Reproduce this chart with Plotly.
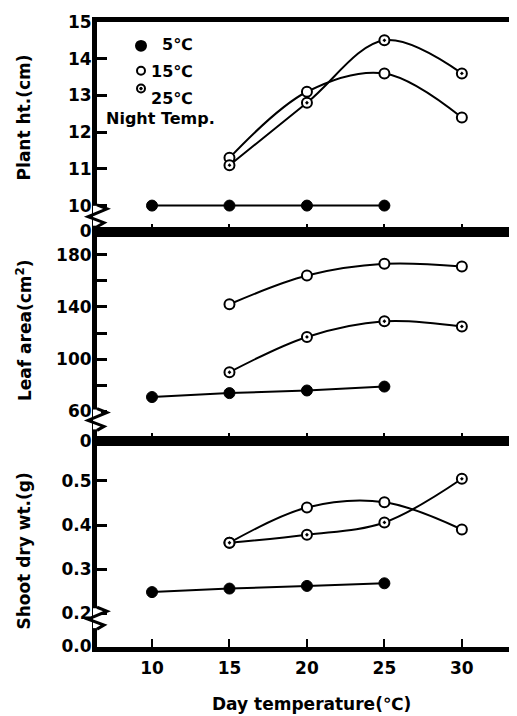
import plotly.graph_objects as go

# ---------------- data ----------------
day_5 = [10, 15, 20, 25]
day_hi = [15, 20, 25, 30]

ht_5 = [10.0, 10.0, 10.0, 10.0]
ht_15 = [11.3, 13.1, 13.6, 12.4]
ht_25 = [11.1, 12.8, 14.5, 13.6]

la_5 = [71, 74, 76, 79]
la_15 = [142, 164, 173, 171]
la_25 = [90, 117, 129, 125]

dw_5 = [0.248, 0.256, 0.262, 0.268]
dw_15 = [0.36, 0.44, 0.452, 0.39]
dw_25 = [0.36, 0.378, 0.406, 0.505]

x_ticks = [10, 15, 20, 25, 30]
ht_tickvals = [9.31, 10, 11, 12, 13, 14, 14.99]
ht_ticktext = ["0", "10", "11", "12", "13", "14", "15"]
la_tickvals = [37.5, 60, 80, 100, 120, 140, 160, 180]
la_ticktext = ["0", "60", "", "100", "", "140", "", "180"]
dw_tickvals = [0.125, 0.2, 0.3, 0.4, 0.5]
dw_ticktext = ["0.0", "0.2", "0.3", "0.4", "0.5"]

legend_names = ["5℃", "15℃", "25℃"]
legend_title = "Night Temp."

# ---------------- layout geometry ----------------
# the page body adds an 8px margin, so the figure is 8px smaller
OFF = 8
W, H = 517 - OFF, 716 - OFF
L, R, T, B = 97 - OFF, 4, 18 - OFF, 69
PW, PH = W - L - R, H - T - B


def px(xs):
    # screen pixel -> paper x
    return (xs - OFF - L) / PW


def py(ys):
    # screen pixel -> paper y
    return (H - B - (ys - OFF)) / PH


FONT = "DejaVu Sans, Liberation Sans, Arial, sans-serif"
BLACK = "black"

d3 = [0, py(440)]
d2 = [py(440), py(229)]
d1 = [py(229), 1]

fig = go.Figure()

styles = {
    "5": dict(symbol="circle", size=11, color=BLACK, line=dict(color=BLACK, width=1)),
    "15": dict(symbol="circle", size=10, color="white", line=dict(color=BLACK, width=2)),
    "25": dict(symbol="circle-dot", size=10, color="white", line=dict(color=BLACK, width=2)),
}

panels = [
    ("x", "y", ht_5, ht_15, ht_25),
    ("x2", "y2", la_5, la_15, la_25),
    ("x3", "y3", dw_5, dw_15, dw_25),
]
for xa, ya, v5, v15, v25 in panels:
    fig.add_trace(go.Scatter(x=day_5, y=v5, mode="lines+markers", xaxis=xa, yaxis=ya,
                             line=dict(color=BLACK, width=2), marker=styles["5"],
                             name=legend_names[0], showlegend=False))
    fig.add_trace(go.Scatter(x=day_hi, y=v15, mode="lines+markers", xaxis=xa, yaxis=ya,
                             line=dict(color=BLACK, width=2, shape="spline", smoothing=1.0),
                             marker=styles["15"], name=legend_names[1], showlegend=False))
    fig.add_trace(go.Scatter(x=day_hi, y=v25, mode="lines+markers", xaxis=xa, yaxis=ya,
                             line=dict(color=BLACK, width=2, shape="spline", smoothing=1.0),
                             marker=styles["25"], name=legend_names[2], showlegend=False))

tickfont = dict(family=FONT, size=17, color=BLACK, weight="bold")
xr = [6.45, 33.3]

common_x = dict(range=xr, tickvals=x_ticks, ticks="inside", ticklen=8, tickwidth=2,
                tickcolor=BLACK, showline=True, linewidth=5, linecolor=BLACK, mirror=True,
                showgrid=False, zeroline=False, tickfont=tickfont, fixedrange=True)
common_y = dict(ticks="inside", ticklen=10, tickwidth=3, tickcolor=BLACK, showline=True,
                linewidth=5, linecolor=BLACK, showgrid=False, zeroline=False,
                tickfont=tickfont, ticklabelstandoff=-3, fixedrange=True)

fig.update_layout(
    width=W, height=H,
    margin=dict(l=L, r=R, t=T, b=B, pad=0),
    paper_bgcolor="white", plot_bgcolor="white",
    font=dict(family=FONT, color=BLACK),
    xaxis=dict(domain=[0, 1], anchor="y", showticklabels=False, **common_x),
    xaxis2=dict(domain=[0, 1], anchor="y2", showticklabels=False, **common_x),
    xaxis3=dict(domain=[0, 1], anchor="y3", showticklabels=True, ticklabelstandoff=2, **common_x),
    yaxis=dict(domain=d1, anchor="x", range=[9.29, 15.0], tickvals=ht_tickvals,
               ticktext=ht_ticktext, **common_y),
    yaxis2=dict(domain=d2, anchor="x2", range=[37.1, 197.6], tickvals=la_tickvals,
                ticktext=la_ticktext, **common_y),
    yaxis3=dict(domain=d3, anchor="x3", range=[0.1235, 0.59], tickvals=dw_tickvals,
                ticktext=dw_ticktext, **common_y),
    showlegend=False,
)

title_font = dict(family=FONT, size=17, color=BLACK, weight="bold")
ann = [
    dict(text="Plant ht.(cm)", x=px(24), y=py(114), textangle=-90),
    dict(text="Leaf area(cm<sup>2</sup>)", x=px(24), y=py(328), textangle=-90),
    dict(text="Shoot dry wt.(g)", x=px(24), y=py(551), textangle=-90),
    dict(text="Day temperature(℃)", x=px(311), y=py(704), textangle=0),
]
for a in ann:
    fig.add_annotation(xref="paper", yref="paper", xanchor="center", yanchor="middle",
                       showarrow=False, font=title_font, **a)

# ---- hand-drawn legend (marker glyphs + labels) ----
leg_font = dict(family=FONT, size=16, color=BLACK, weight="bold")
leg_rows = [(42, 41, 5.0), (67, 68, 4.0), (85, 95, 4.0)]  # marker y, text y, radius
for i, (my, ty, r) in enumerate(leg_rows):
    cx = 141
    fill = BLACK if i == 0 else "white"
    fig.add_shape(type="circle", xref="paper", yref="paper",
                  x0=px(cx - r), x1=px(cx + r), y0=py(my + r), y1=py(my - r),
                  fillcolor=fill, line=dict(color=BLACK, width=2))
    if i == 2:
        fig.add_shape(type="circle", xref="paper", yref="paper",
                      x0=px(cx - 1.3), x1=px(cx + 1.3), y0=py(my + 1.3), y1=py(my - 1.3),
                      fillcolor=BLACK, line=dict(color=BLACK, width=1))
    fig.add_annotation(text=legend_names[i], xref="paper", yref="paper", x=px(195),
                       y=py(ty), xanchor="right", yanchor="middle", showarrow=False,
                       font=leg_font)
fig.add_annotation(text=legend_title, xref="paper", yref="paper", x=px(104), y=py(115),
                   xanchor="left", yanchor="middle", showarrow=False,
                   font=dict(family=FONT, size=16, color=BLACK, weight="bold"))

# right border
fig.add_shape(type="line", xref="paper", yref="paper", x0=1, x1=1, y0=0, y1=1,
              line=dict(color=BLACK, width=3))

# axis break marks
for yc in [213, 418, 618]:
    fig.add_shape(type="rect", xref="paper", yref="paper", x0=px(93), x1=px(101),
                  y0=py(yc + 10), y1=py(yc - 10), line=dict(width=0), fillcolor="white",
                  layer="above")
    path = "M {},{} L {},{} L {},{} L {},{} L {},{}".format(
        px(97), py(yc - 11), px(107), py(yc - 7), px(88), py(yc + 1), px(104), py(yc + 7),
        px(97), py(yc + 11))
    fig.add_shape(type="path", xref="paper", yref="paper", path=path,
                  line=dict(color=BLACK, width=3), layer="above")

fig.write_html("out.html")
